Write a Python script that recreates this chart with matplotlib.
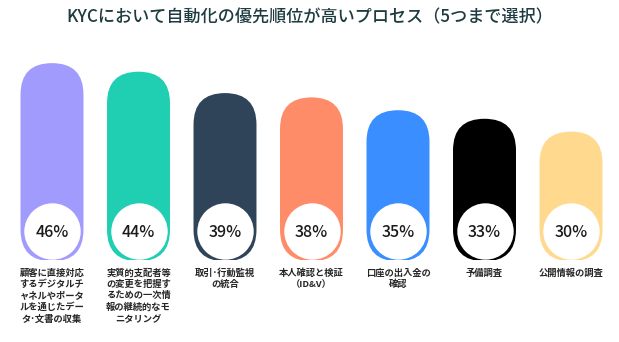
import matplotlib
matplotlib.use("Agg")
import matplotlib.pyplot as plt
from matplotlib.patches import FancyBboxPatch
from matplotlib.transforms import ScaledTranslation

plt.rcParams['font.family'] = ['Noto Sans CJK JP', 'DejaVu Sans']

title = "KYCにおいて自動化の優先順位が高いプロセス（5つまで選択）"
labels = [
    "顧客に直接対応\nするデジタルチ\nャネルやポータ\nルを通じたデー\nタ･文書の収集",
    "実質的支配者等\nの変更を把握す\nるための一次情\n報の継続的なモ\nニタリング",
    "取引･行動監視\nの統合",
    "本人確認と検証\n（ID&V）",
    "口座の出入金の\n確認",
    "予備調査",
    "公開情報の調査",
]
values = [46, 44, 39, 38, 35, 33, 30]
colors = ["#A29BFE", "#20CFB2", "#2F4459", "#FF8C69", "#3A8EFF", "#000000", "#FFD98E"]

W, H, DPI = 619, 342, 100
fig = plt.figure(figsize=(W / DPI, H / DPI), dpi=DPI)
# axes box in pixels: categories 86.5 px apart, 4.28 px per percent
ax = fig.add_axes([8.75 / W, 82 / H, 605.5 / W, 214 / H])
ax.set_xlim(-0.5, len(values) - 0.5)
ax.set_ylim(0, 50)
ax.axis("off")

# data units per pixel, used to keep the rounded ends circular
x_per_px = (len(values)) / 605.5
y_per_px = 50 / 214
aspect = y_per_px / x_per_px

bar_w = 0.728
for i, (v, c) in enumerate(zip(values, colors)):
    pill = FancyBboxPatch((i - bar_w / 2, -0.3), bar_w, v + 0.3,
                          boxstyle=f"round,pad=0,rounding_size={bar_w / 2}",
                          mutation_aspect=aspect, fc=c, ec="none")
    ax.add_patch(pill)

# white discs near the bottom of every bar
disc_shift = ScaledTranslation(0, 29 / DPI, fig.dpi_scale_trans)
ax.scatter(range(len(values)), [0] * len(values), s=1650, c="white",
           linewidths=0, transform=ax.transData + disc_shift, zorder=3)

for i, v in enumerate(values):
    ax.annotate(f"{v}%", xy=(i, 0), xytext=(0, 19.5), textcoords="offset points",
                ha="center", va="center", fontsize=11.5, fontweight="medium",
                color="#1a1a1a", zorder=4)
    ax.annotate(labels[i], xy=(i, 0), xytext=(0, -6), textcoords="offset points",
                ha="center", va="top", fontsize=6.7, fontweight="bold",
                color="#262626", linespacing=1.3, annotation_clip=False)

fig.text(0.5, 1 - 17 / H, title, ha="center", va="center", fontsize=12.3,
         fontweight="medium", color="#1d3b40")

fig.savefig("out.png", dpi=DPI, facecolor="white")
